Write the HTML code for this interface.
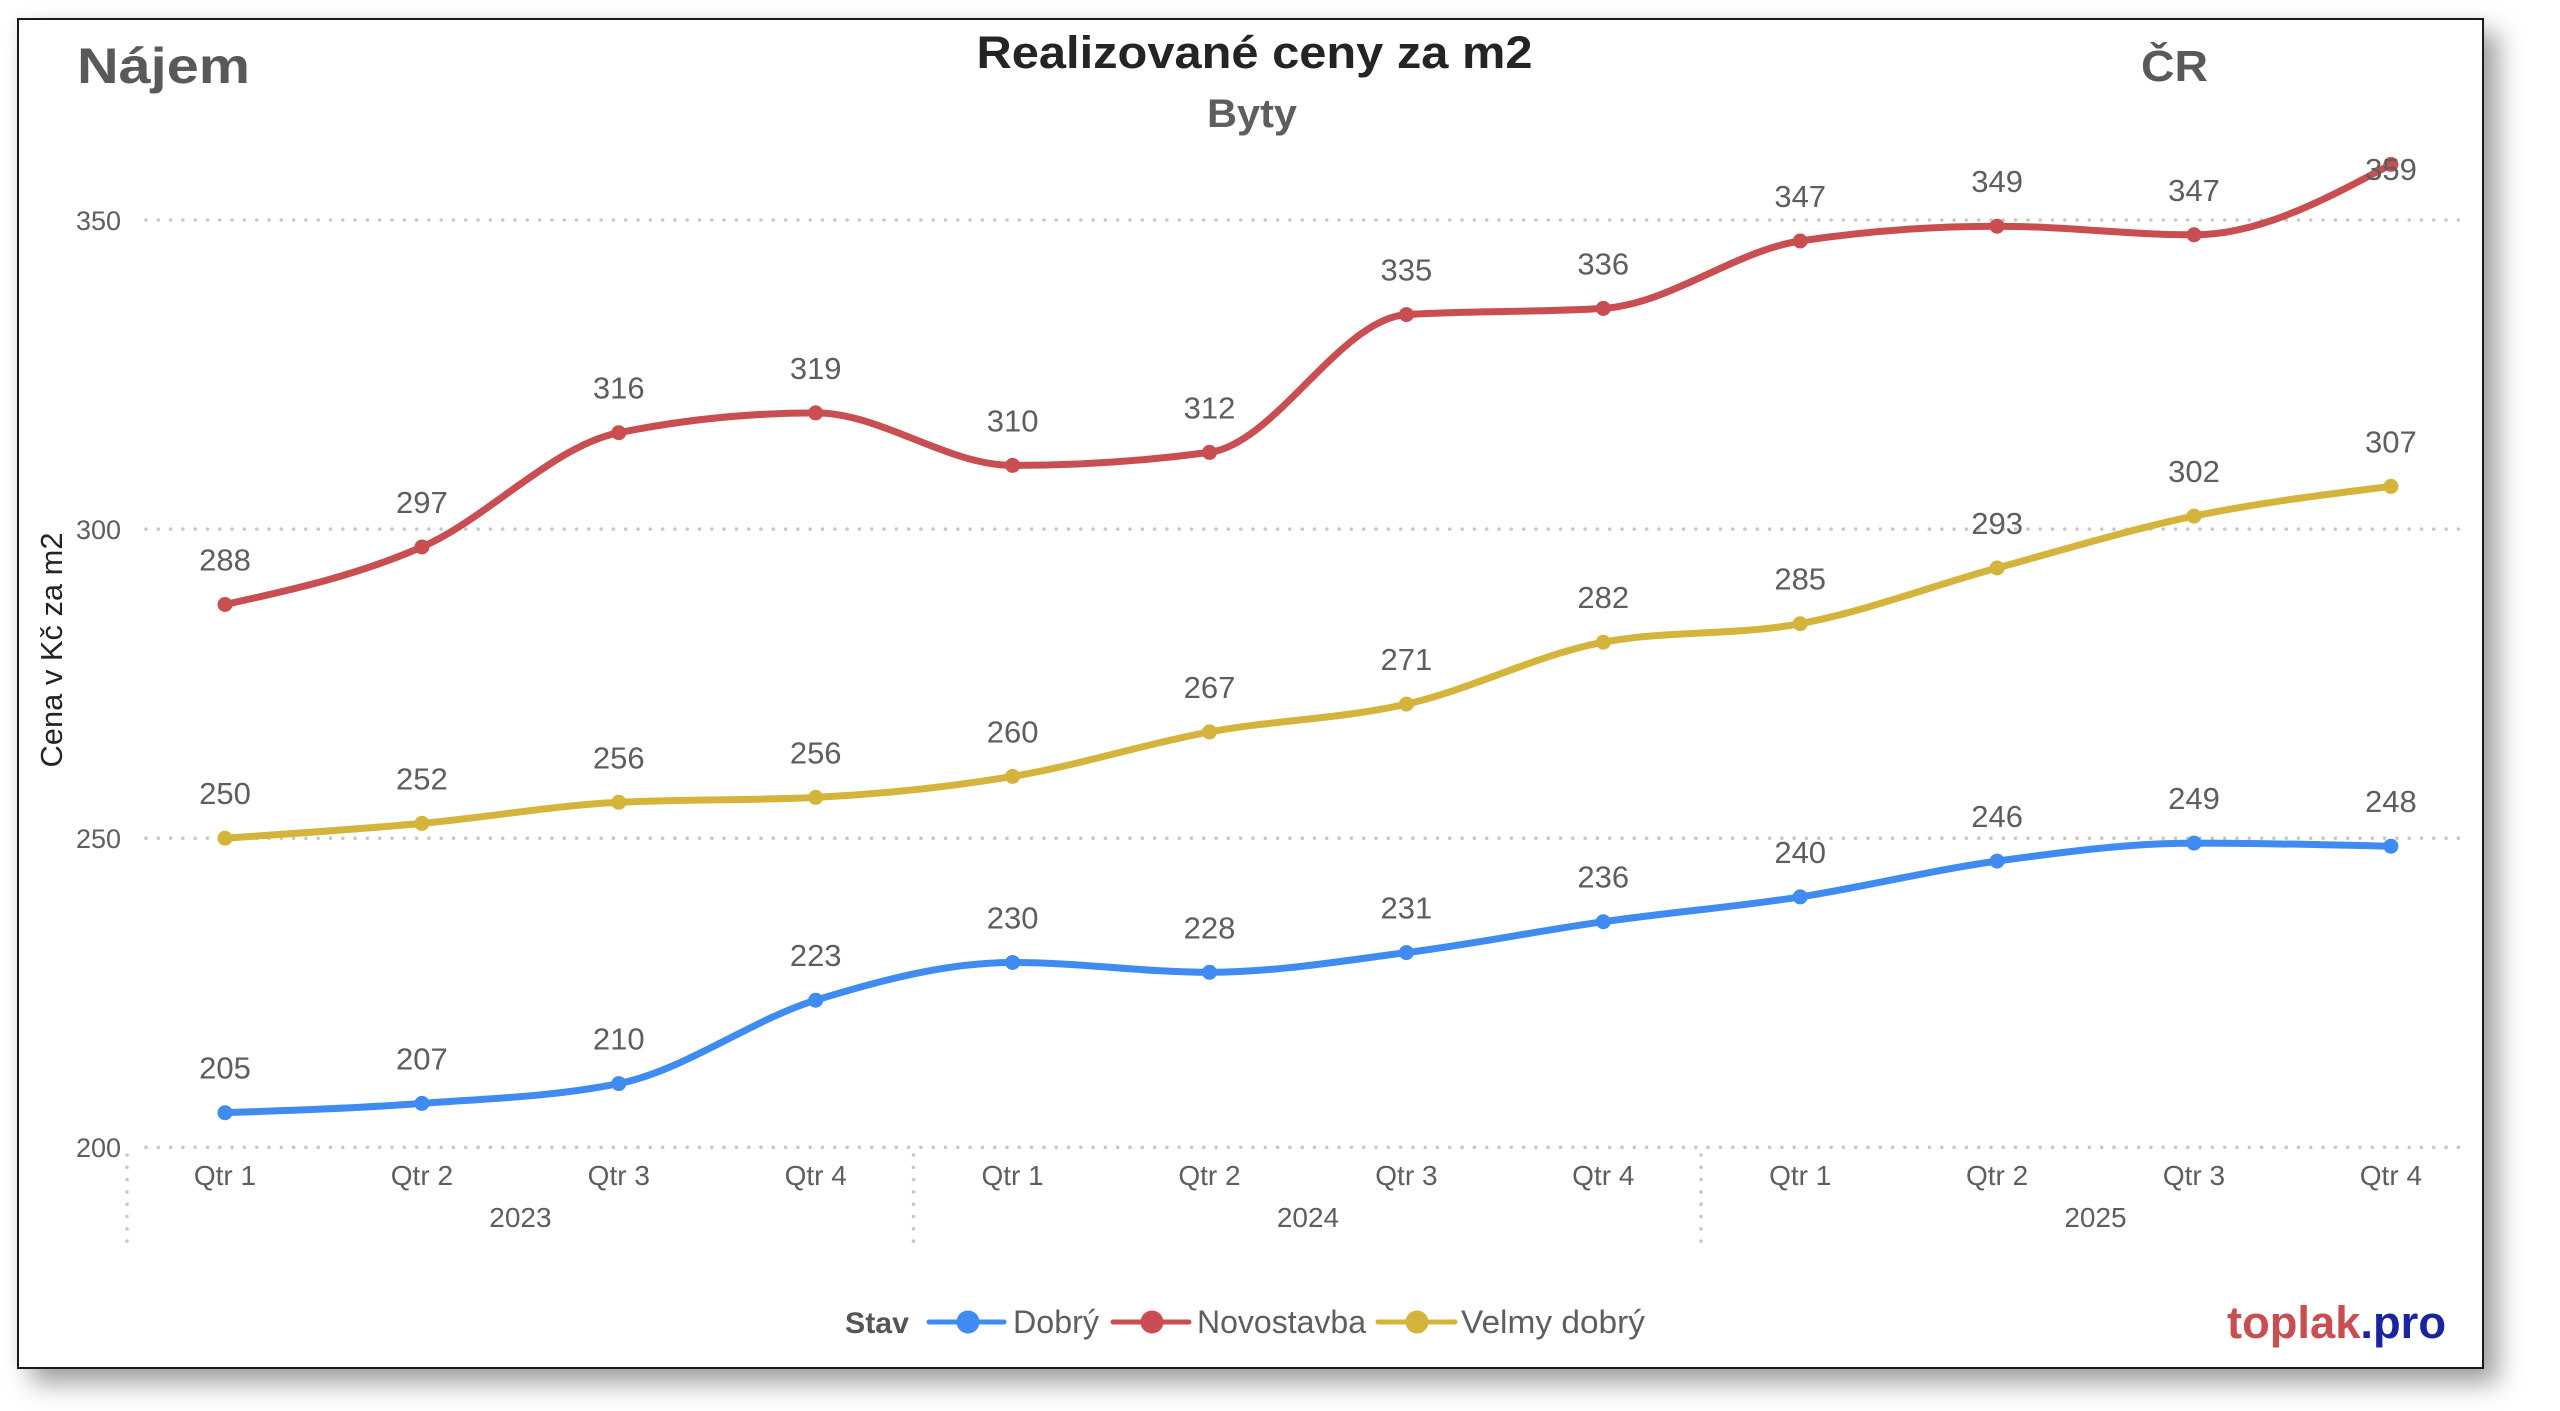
<!DOCTYPE html>
<html>
<head>
<meta charset="utf-8">
<style>
  html, body { margin:0; padding:0; background:#ffffff; }
  body { width:2560px; height:1411px; overflow:hidden; position:relative; }
  .frame {
    position:absolute; left:17px; top:18px; width:2467px; height:1351px;
    box-sizing:border-box; border:2.5px solid #1a1a1a; background:#ffffff;
    box-shadow: 14px 14px 24px rgba(0,0,0,0.38), -2px -2px 8px rgba(0,0,0,0.04);
  }
  svg { position:absolute; left:0; top:0; }
  text { font-family:"Liberation Sans", Arial, sans-serif; }
</style>
</head>
<body>
<div class="frame"></div>
<svg width="2560" height="1411" viewBox="0 0 2560 1411" xmlns="http://www.w3.org/2000/svg">
  <!-- Titles -->
  <text x="77" y="83" font-size="50" font-weight="bold" fill="#595959" textLength="173" lengthAdjust="spacingAndGlyphs">Nájem</text>
  <text x="1254.5" y="68" font-size="45" font-weight="bold" fill="#252423" text-anchor="middle" textLength="556" lengthAdjust="spacingAndGlyphs">Realizované ceny za m2</text>
  <text x="1252" y="127" font-size="40" font-weight="bold" fill="#605E5C" text-anchor="middle" textLength="90" lengthAdjust="spacingAndGlyphs">Byty</text>
  <text x="2141" y="81" font-size="44" font-weight="bold" fill="#595959" textLength="67" lengthAdjust="spacingAndGlyphs">ČR</text>

  <!-- Y axis title -->
  <text transform="translate(62,650) rotate(-90)" font-size="31" fill="#252423" text-anchor="middle" textLength="235" lengthAdjust="spacingAndGlyphs">Cena v Kč za m2</text>

  <!-- Gridlines -->
  <g stroke="#c8c8c8" stroke-width="3.6" stroke-linecap="round" stroke-dasharray="0 12.3" fill="none">
    <line x1="146" y1="220" x2="2468" y2="220"/>
    <line x1="146" y1="529.1" x2="2468" y2="529.1"/>
    <line x1="146" y1="838.2" x2="2468" y2="838.2"/>
    <line x1="146" y1="1147.3" x2="2468" y2="1147.3"/>
    <line x1="127" y1="1155" x2="127" y2="1243"/>
    <line x1="913.5" y1="1155" x2="913.5" y2="1243"/>
    <line x1="1701" y1="1155" x2="1701" y2="1243"/>
  </g>

  <!-- Y tick labels -->
  <g font-size="27" fill="#605E5C" text-anchor="end">
    <text x="121" y="230">350</text>
    <text x="121" y="539">300</text>
    <text x="121" y="848">250</text>
    <text x="121" y="1157">200</text>
  </g>

  <!-- X labels -->
  <g font-size="28" fill="#605E5C" text-anchor="middle">
    <text x="225" y="1185">Qtr 1</text>
    <text x="421.9" y="1185">Qtr 2</text>
    <text x="618.8" y="1185">Qtr 3</text>
    <text x="815.7" y="1185">Qtr 4</text>
    <text x="1012.6" y="1185">Qtr 1</text>
    <text x="1209.5" y="1185">Qtr 2</text>
    <text x="1406.4" y="1185">Qtr 3</text>
    <text x="1603.3" y="1185">Qtr 4</text>
    <text x="1800.2" y="1185">Qtr 1</text>
    <text x="1997.1" y="1185">Qtr 2</text>
    <text x="2194" y="1185">Qtr 3</text>
    <text x="2390.9" y="1185">Qtr 4</text>
    <text x="520.4" y="1227">2023</text>
    <text x="1308" y="1227">2024</text>
    <text x="2095.5" y="1227">2025</text>
  </g>

  <!-- Series lines -->
  <g fill="none" stroke-width="7" stroke-linecap="round" stroke-linejoin="round">
    <path stroke="#C84E52" d="M225,604.5 C290.6,590.1 356.3,575.6 421.9,547.0 C487.5,518.4 553.2,445.9 618.8,432.7 C684.4,419.5 750.1,412.9 815.7,412.9 C881.3,412.9 947.0,465.4 1012.6,465.4 C1078.2,465.4 1143.9,461.1 1209.5,452.4 C1275.1,443.7 1340.8,318.7 1406.4,314.6 C1472.0,310.5 1537.7,312.5 1603.3,308.4 C1668.9,304.3 1734.6,250.9 1800.2,241.0 C1865.8,231.1 1931.5,226.2 1997.1,226.2 C2062.7,226.2 2128.4,234.8 2194.0,234.8 C2259.6,234.8 2325.3,199.6 2390.9,164.4"/>
    <path stroke="#D5B43B" d="M225,838.2 C290.6,833.8 356.3,829.4 421.9,823.4 C487.5,817.4 553.2,805.6 618.8,802.3 C684.4,799.0 750.1,800.7 815.7,797.4 C881.3,794.1 947.0,787.3 1012.6,776.4 C1078.2,765.5 1143.9,744.0 1209.5,731.9 C1275.1,719.9 1340.8,719.1 1406.4,704.1 C1472.0,689.2 1537.7,654.5 1603.3,642.2 C1668.9,629.9 1734.6,636.0 1800.2,623.7 C1865.8,611.4 1931.5,585.9 1997.1,568.0 C2062.7,550.1 2128.4,529.7 2194.0,516.1 C2259.6,502.5 2325.3,494.5 2390.9,486.4"/>
    <path stroke="#408BF2" d="M225,1112.7 C290.6,1110.5 356.3,1108.3 421.9,1103.4 C487.5,1098.6 553.2,1096.8 618.8,1083.6 C684.4,1070.4 750.1,1020.4 815.7,1000.2 C881.3,980.0 947.0,962.5 1012.6,962.5 C1078.2,962.5 1143.9,972.3 1209.5,972.3 C1275.1,972.3 1340.8,961.0 1406.4,952.6 C1472.0,944.2 1537.7,931.0 1603.3,921.7 C1668.9,912.4 1734.6,907.0 1800.2,896.9 C1865.8,886.8 1931.5,870.1 1997.1,861.1 C2062.7,852.1 2128.4,843.1 2194.0,843.1 C2259.6,843.1 2325.3,844.7 2390.9,846.2"/>
  </g>

  <!-- Markers -->
  <g fill="#C84E52">
    <circle cx="225" cy="604.5" r="7.5"/><circle cx="421.9" cy="547.0" r="7.5"/><circle cx="618.8" cy="432.7" r="7.5"/><circle cx="815.7" cy="412.9" r="7.5"/>
    <circle cx="1012.6" cy="465.4" r="7.5"/><circle cx="1209.5" cy="452.4" r="7.5"/><circle cx="1406.4" cy="314.6" r="7.5"/><circle cx="1603.3" cy="308.4" r="7.5"/>
    <circle cx="1800.2" cy="241.0" r="7.5"/><circle cx="1997.1" cy="226.2" r="7.5"/><circle cx="2194" cy="234.8" r="7.5"/><circle cx="2390.9" cy="164.4" r="7.5"/>
  </g>
  <g fill="#D5B43B">
    <circle cx="225" cy="838.2" r="7.5"/><circle cx="421.9" cy="823.4" r="7.5"/><circle cx="618.8" cy="802.3" r="7.5"/><circle cx="815.7" cy="797.4" r="7.5"/>
    <circle cx="1012.6" cy="776.4" r="7.5"/><circle cx="1209.5" cy="731.9" r="7.5"/><circle cx="1406.4" cy="704.1" r="7.5"/><circle cx="1603.3" cy="642.2" r="7.5"/>
    <circle cx="1800.2" cy="623.7" r="7.5"/><circle cx="1997.1" cy="568.0" r="7.5"/><circle cx="2194" cy="516.1" r="7.5"/><circle cx="2390.9" cy="486.4" r="7.5"/>
  </g>
  <g fill="#408BF2">
    <circle cx="225" cy="1112.7" r="7.5"/><circle cx="421.9" cy="1103.4" r="7.5"/><circle cx="618.8" cy="1083.6" r="7.5"/><circle cx="815.7" cy="1000.2" r="7.5"/>
    <circle cx="1012.6" cy="962.5" r="7.5"/><circle cx="1209.5" cy="972.3" r="7.5"/><circle cx="1406.4" cy="952.6" r="7.5"/><circle cx="1603.3" cy="921.7" r="7.5"/>
    <circle cx="1800.2" cy="896.9" r="7.5"/><circle cx="1997.1" cy="861.1" r="7.5"/><circle cx="2194" cy="843.1" r="7.5"/><circle cx="2390.9" cy="846.2" r="7.5"/>
  </g>

  <!-- Data labels -->
  <g font-size="31" fill="#605E5C" text-anchor="middle">
    <text x="225" y="570.5">288</text>
    <text x="421.9" y="513">297</text>
    <text x="618.8" y="398.7">316</text>
    <text x="815.7" y="378.9">319</text>
    <text x="1012.6" y="431.4">310</text>
    <text x="1209.5" y="418.4">312</text>
    <text x="1406.4" y="280.6">335</text>
    <text x="1603.3" y="274.4">336</text>
    <text x="1800.2" y="207">347</text>
    <text x="1997.1" y="192.2">349</text>
    <text x="2194" y="200.8">347</text>
    <text x="2391" y="180">359</text>
    <text x="225" y="804.2">250</text>
    <text x="421.9" y="789.4">252</text>
    <text x="618.8" y="768.3">256</text>
    <text x="815.7" y="763.4">256</text>
    <text x="1012.6" y="742.4">260</text>
    <text x="1209.5" y="697.9">267</text>
    <text x="1406.4" y="670.1">271</text>
    <text x="1603.3" y="608.2">282</text>
    <text x="1800.2" y="589.7">285</text>
    <text x="1997.1" y="534">293</text>
    <text x="2194" y="482.1">302</text>
    <text x="2390.9" y="452.4">307</text>
    <text x="225" y="1078.7">205</text>
    <text x="421.9" y="1069.4">207</text>
    <text x="618.8" y="1049.6">210</text>
    <text x="815.7" y="966.2">223</text>
    <text x="1012.6" y="928.5">230</text>
    <text x="1209.5" y="938.3">228</text>
    <text x="1406.4" y="918.6">231</text>
    <text x="1603.3" y="887.7">236</text>
    <text x="1800.2" y="862.9">240</text>
    <text x="1997.1" y="827.1">246</text>
    <text x="2194" y="809.1">249</text>
    <text x="2390.9" y="812.2">248</text>
  </g>

  <!-- Legend -->
  <text x="845" y="1333" font-size="30" font-weight="bold" fill="#555555" textLength="64" lengthAdjust="spacingAndGlyphs">Stav</text>
  <line x1="929" y1="1322" x2="1004" y2="1322" stroke="#408BF2" stroke-width="5" stroke-linecap="round"/>
  <circle cx="968" cy="1322" r="11.5" fill="#408BF2"/>
  <text x="1013" y="1333" font-size="32" fill="#605E5C" textLength="86" lengthAdjust="spacingAndGlyphs">Dobrý</text>
  <line x1="1113" y1="1322" x2="1189" y2="1322" stroke="#C84E52" stroke-width="5" stroke-linecap="round"/>
  <circle cx="1152" cy="1322" r="11.5" fill="#C84E52"/>
  <text x="1197" y="1333" font-size="32" fill="#605E5C" textLength="169" lengthAdjust="spacingAndGlyphs">Novostavba</text>
  <line x1="1378" y1="1322" x2="1455" y2="1322" stroke="#D5B43B" stroke-width="5" stroke-linecap="round"/>
  <circle cx="1417" cy="1322" r="11.5" fill="#D5B43B"/>
  <text x="1461" y="1333" font-size="32" fill="#605E5C" textLength="184" lengthAdjust="spacingAndGlyphs">Velmy dobrý</text>

  <!-- Branding -->
  <text x="2227" y="1338" font-size="45" font-weight="bold" textLength="219" lengthAdjust="spacingAndGlyphs"><tspan fill="#C84E52">toplak</tspan><tspan fill="#1B24A0">.pro</tspan></text>
</svg>
</body>
</html>
